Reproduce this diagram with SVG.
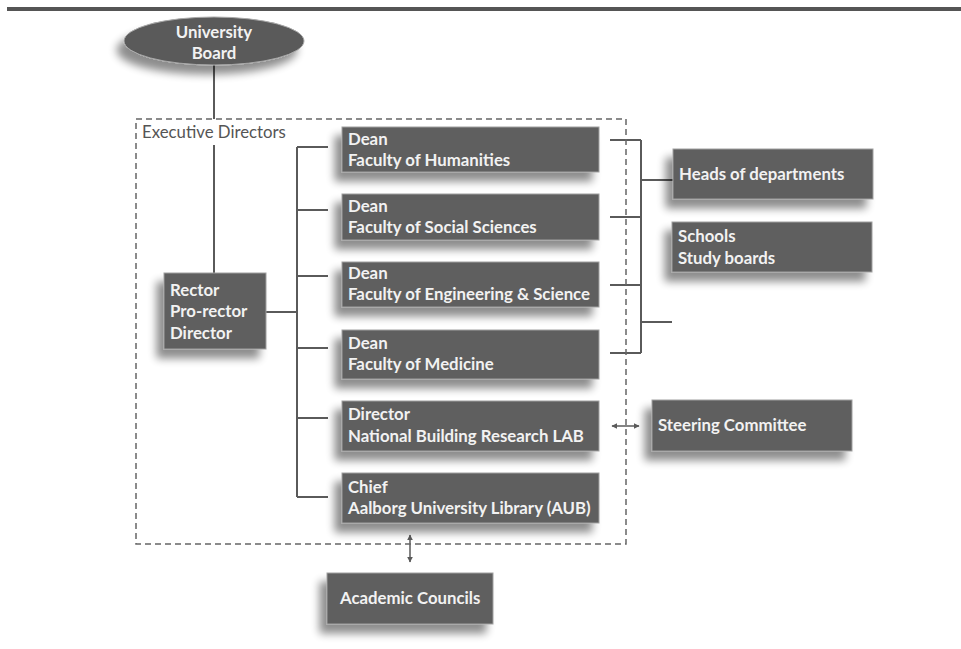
<svg xmlns="http://www.w3.org/2000/svg" width="961" height="649" viewBox="0 0 961 649">
<defs>
<filter id="sh" x="-20%" y="-30%" width="140%" height="180%">
<feGaussianBlur in="SourceAlpha" stdDeviation="4.5"/>
<feOffset dx="-7" dy="9" result="o"/>
<feComponentTransfer><feFuncA type="linear" slope="0.45"/></feComponentTransfer>
<feMerge><feMergeNode/><feMergeNode in="SourceGraphic"/></feMerge>
</filter>
<marker id="ah" viewBox="0 0 10 10" refX="9" refY="5" markerWidth="4" markerHeight="4" orient="auto-start-reverse">
<path d="M0,0 L10,5 L0,10 z" fill="#5a5a5a"/>
</marker>
<style>
.box{fill:#5f5f5f;stroke:#a0a0a0;stroke-width:1;filter:url(#sh)}
.t{font-family:Lato,"Liberation Sans",sans-serif;font-weight:bold;font-size:16.8px;fill:#f2f2f2}
.ln{stroke:#5a5a5a;stroke-width:2;fill:none}
.arr{stroke:#5a5a5a;stroke-width:1.5;fill:none;marker-start:url(#ah);marker-end:url(#ah)}
</style>
</defs>
<rect width="961" height="649" fill="#ffffff"/>
<rect x="7" y="7" width="954" height="4" fill="#555555"/>

<g id="connectors">
<line class="ln" x1="214" y1="64" x2="214" y2="119"/>
<line class="ln" x1="214" y1="145" x2="214" y2="273"/>
<polyline class="ln" points="266,312 297,312"/>
<line class="ln" x1="297" y1="147" x2="297" y2="497"/>
<line class="ln" x1="297" y1="147" x2="328" y2="147"/>
<line class="ln" x1="297" y1="210" x2="328" y2="210"/>
<line class="ln" x1="297" y1="276" x2="328" y2="276"/>
<line class="ln" x1="297" y1="348" x2="328" y2="348"/>
<line class="ln" x1="297" y1="418" x2="328" y2="418"/>
<line class="ln" x1="297" y1="497" x2="328" y2="497"/>
<line class="ln" x1="641" y1="140" x2="641" y2="353"/>
<line class="ln" x1="610" y1="140" x2="641" y2="140"/>
<line class="ln" x1="610" y1="217" x2="641" y2="217"/>
<line class="ln" x1="610" y1="285" x2="641" y2="285"/>
<line class="ln" x1="610" y1="353" x2="641" y2="353"/>
<line class="ln" x1="641" y1="180" x2="673" y2="180"/>
<line class="ln" x1="641" y1="322" x2="672" y2="322"/>
<line class="arr" x1="612" y1="426" x2="639" y2="426"/>
<line class="arr" x1="410" y1="535" x2="410" y2="562"/>
</g>

<g id="executive-directors">
<rect x="136" y="119" width="490" height="425" fill="none" stroke="#666666" stroke-width="1.5" stroke-dasharray="6,4"/>
<text x="142" y="138" font-family="Lato,'Liberation Sans',sans-serif" font-size="16.8" fill="#555555">Executive Directors</text>
</g>

<g id="university-board">
<ellipse cx="214" cy="41" rx="90" ry="24" fill="#5a5a5a" stroke="#a8a8a8" stroke-width="1" filter="url(#sh)"/>
<text class="t" x="214" y="38" text-anchor="middle">University</text>
<text class="t" x="214" y="59" text-anchor="middle">Board</text>
</g>

<g id="rector">
<rect class="box" x="164" y="273" width="102" height="76"/>
<text class="t" x="170" y="296">Rector</text>
<text class="t" x="170" y="317">Pro-rector</text>
<text class="t" x="170" y="339">Director</text>
</g>

<g id="dean-humanities">
<rect class="box" x="342" y="127" width="257" height="45"/>
<text class="t" x="348" y="145">Dean</text>
<text class="t" x="348" y="166">Faculty of Humanities</text>
</g>

<g id="dean-social">
<rect class="box" x="342" y="194" width="257" height="46"/>
<text class="t" x="348" y="212">Dean</text>
<text class="t" x="348" y="233">Faculty of Social Sciences</text>
</g>

<g id="dean-engineering">
<rect class="box" x="342" y="262" width="257" height="45"/>
<text class="t" x="348" y="279">Dean</text>
<text class="t" x="348" y="300">Faculty of Engineering &amp; Science</text>
</g>

<g id="dean-medicine">
<rect class="box" x="342" y="330" width="257" height="49"/>
<text class="t" x="348" y="349">Dean</text>
<text class="t" x="348" y="370">Faculty of Medicine</text>
</g>

<g id="director-lab">
<rect class="box" x="342" y="401" width="257" height="50"/>
<text class="t" x="348" y="420">Director</text>
<text class="t" x="348" y="442">National Building Research LAB</text>
</g>

<g id="chief-aub">
<rect class="box" x="342" y="473" width="257" height="50"/>
<text class="t" x="348" y="493">Chief</text>
<text class="t" x="348" y="514">Aalborg University Library (AUB)</text>
</g>

<g id="heads-of-departments">
<rect class="box" x="673" y="149" width="200" height="50"/>
<text class="t" x="679" y="180">Heads of departments</text>
</g>

<g id="schools">
<rect class="box" x="672" y="222" width="200" height="50"/>
<text class="t" x="678" y="242">Schools</text>
<text class="t" x="678" y="264">Study boards</text>
</g>

<g id="steering-committee">
<rect class="box" x="652" y="400" width="200" height="51"/>
<text class="t" x="658" y="431">Steering Committee</text>
</g>

<g id="academic-councils">
<rect class="box" x="327" y="573" width="166" height="51"/>
<text class="t" x="340" y="604">Academic Councils</text>
</g>
</svg>
